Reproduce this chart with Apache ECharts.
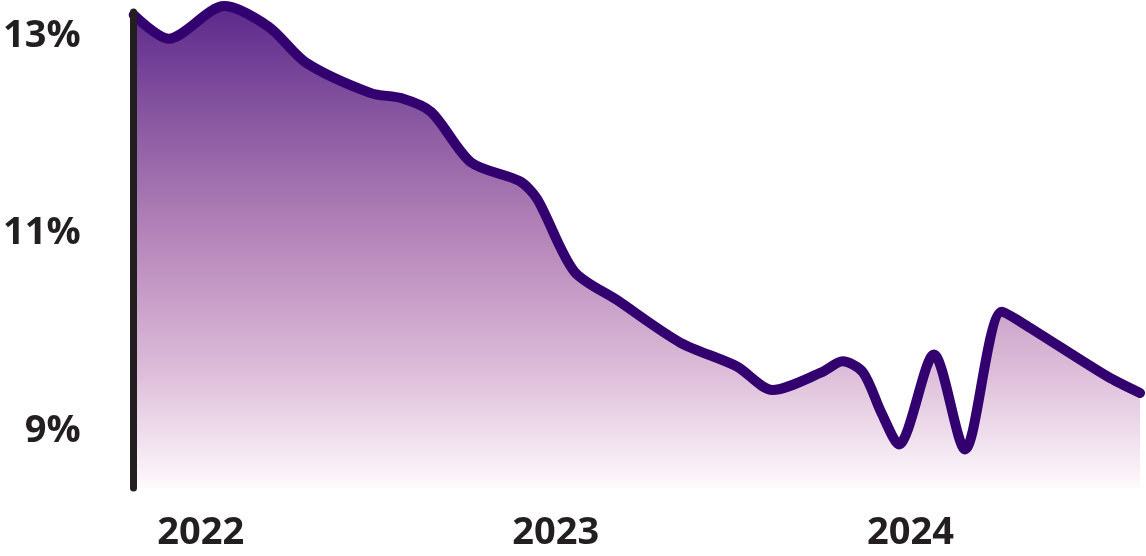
<!DOCTYPE html>
<html>
<head>
<meta charset="utf-8">
<script src="https://cdn.jsdelivr.net/npm/echarts@6/dist/echarts.min.js"></script>
<style>
  html, body { margin: 0; padding: 0; background: #fff; }
  #chart { width: 1146px; height: 556px; }
</style>
</head>
<body>
<div id="chart"></div>
<script>
// dates (turning points and bends)
const dates = [
  '2021-10-24', '2021-11-29', '2022-01-25', '2022-03-12', '2022-04-19',
  '2022-06-25', '2022-07-26', '2022-08-26', '2022-10-06', '2022-11-25',
  '2022-12-13', '2023-01-20', '2023-03-05', '2023-05-09',
  '2023-07-06', '2023-08-12', '2023-10-02', '2023-10-23', '2023-11-13',
  '2023-12-02', '2023-12-20', '2024-01-25', '2024-02-26', '2024-04-04',
  '2024-05-01', '2024-07-21', '2024-08-24'
];
// rate, %
const rates = [
  13.21, 12.97, 13.30, 13.09, 12.73,
  12.42, 12.37, 12.23, 11.72, 11.53,
  11.35, 10.62, 10.33, 9.90,
  9.66, 9.42, 9.60, 9.71, 9.60,
  9.19, 8.87, 9.78, 8.82, 10.21,
  10.06, 9.56, 9.39
];
const yTicks = [9, 11, 13];

const textColor = '#231f20';
const labelFont = { fontFamily: 'Open Sans', fontWeight: 'bold', fontSize: 38, color: textColor };
const YEAR = 365 * 24 * 3600 * 1000;

const chart = echarts.init(document.getElementById('chart'));

const option = {
  backgroundColor: '#fff',
  animation: false,
  grid: { left: 131, right: 6, top: 12, bottom: 68 },
  xAxis: {
    type: 'time',
    min: dates[0],
    max: dates[dates.length - 1],
    minInterval: YEAR,
    maxInterval: YEAR * 1.01,
    axisLine: { show: false },
    axisTick: { show: false },
    splitLine: { show: false },
    axisLabel: {
      ...labelFont,
      margin: 26,
      showMinLabel: false,
      showMaxLabel: false,
      formatter: v => {
        const d = new Date(v);
        return d.getMonth() === 0 && d.getDate() === 1 ? String(d.getFullYear()) : '';
      }
    }
  },
  yAxis: {
    type: 'value',
    min: 8.43,
    max: 13.24,
    z: 5,
    axisLine: {
      show: true,
      lineStyle: { color: textColor, width: 7, cap: 'round' }
    },
    axisTick: { show: false },
    splitLine: { show: false },
    axisLabel: {
      ...labelFont,
      margin: 53,
      verticalAlign: 'middle',
      lineHeight: 38,
      padding: [6, 0, 0, 0],
      customValues: yTicks,
      formatter: v => v + '%'
    }
  },
  series: [
    {
      type: 'line',
      data: dates.map((d, i) => [d, rates[i]]),
      smooth: 0.28,
      symbol: 'none',
      clip: false,
      lineStyle: { color: '#330070', width: 10, cap: 'round', join: 'round' },
      areaStyle: {
        origin: 'start',
        opacity: 1,
        color: new echarts.graphic.LinearGradient(0, 0, 0, 1, [
          { offset: 0, color: '#5c288c' },
          { offset: 0.22, color: '#86559f' },
          { offset: 0.48, color: '#b585b9' },
          { offset: 0.75, color: '#dcbbd8' },
          { offset: 1, color: '#fdfafc' }
        ])
      },
      z: 2
    }
  ]
};

chart.setOption(option);
</script>
</body>
</html>
